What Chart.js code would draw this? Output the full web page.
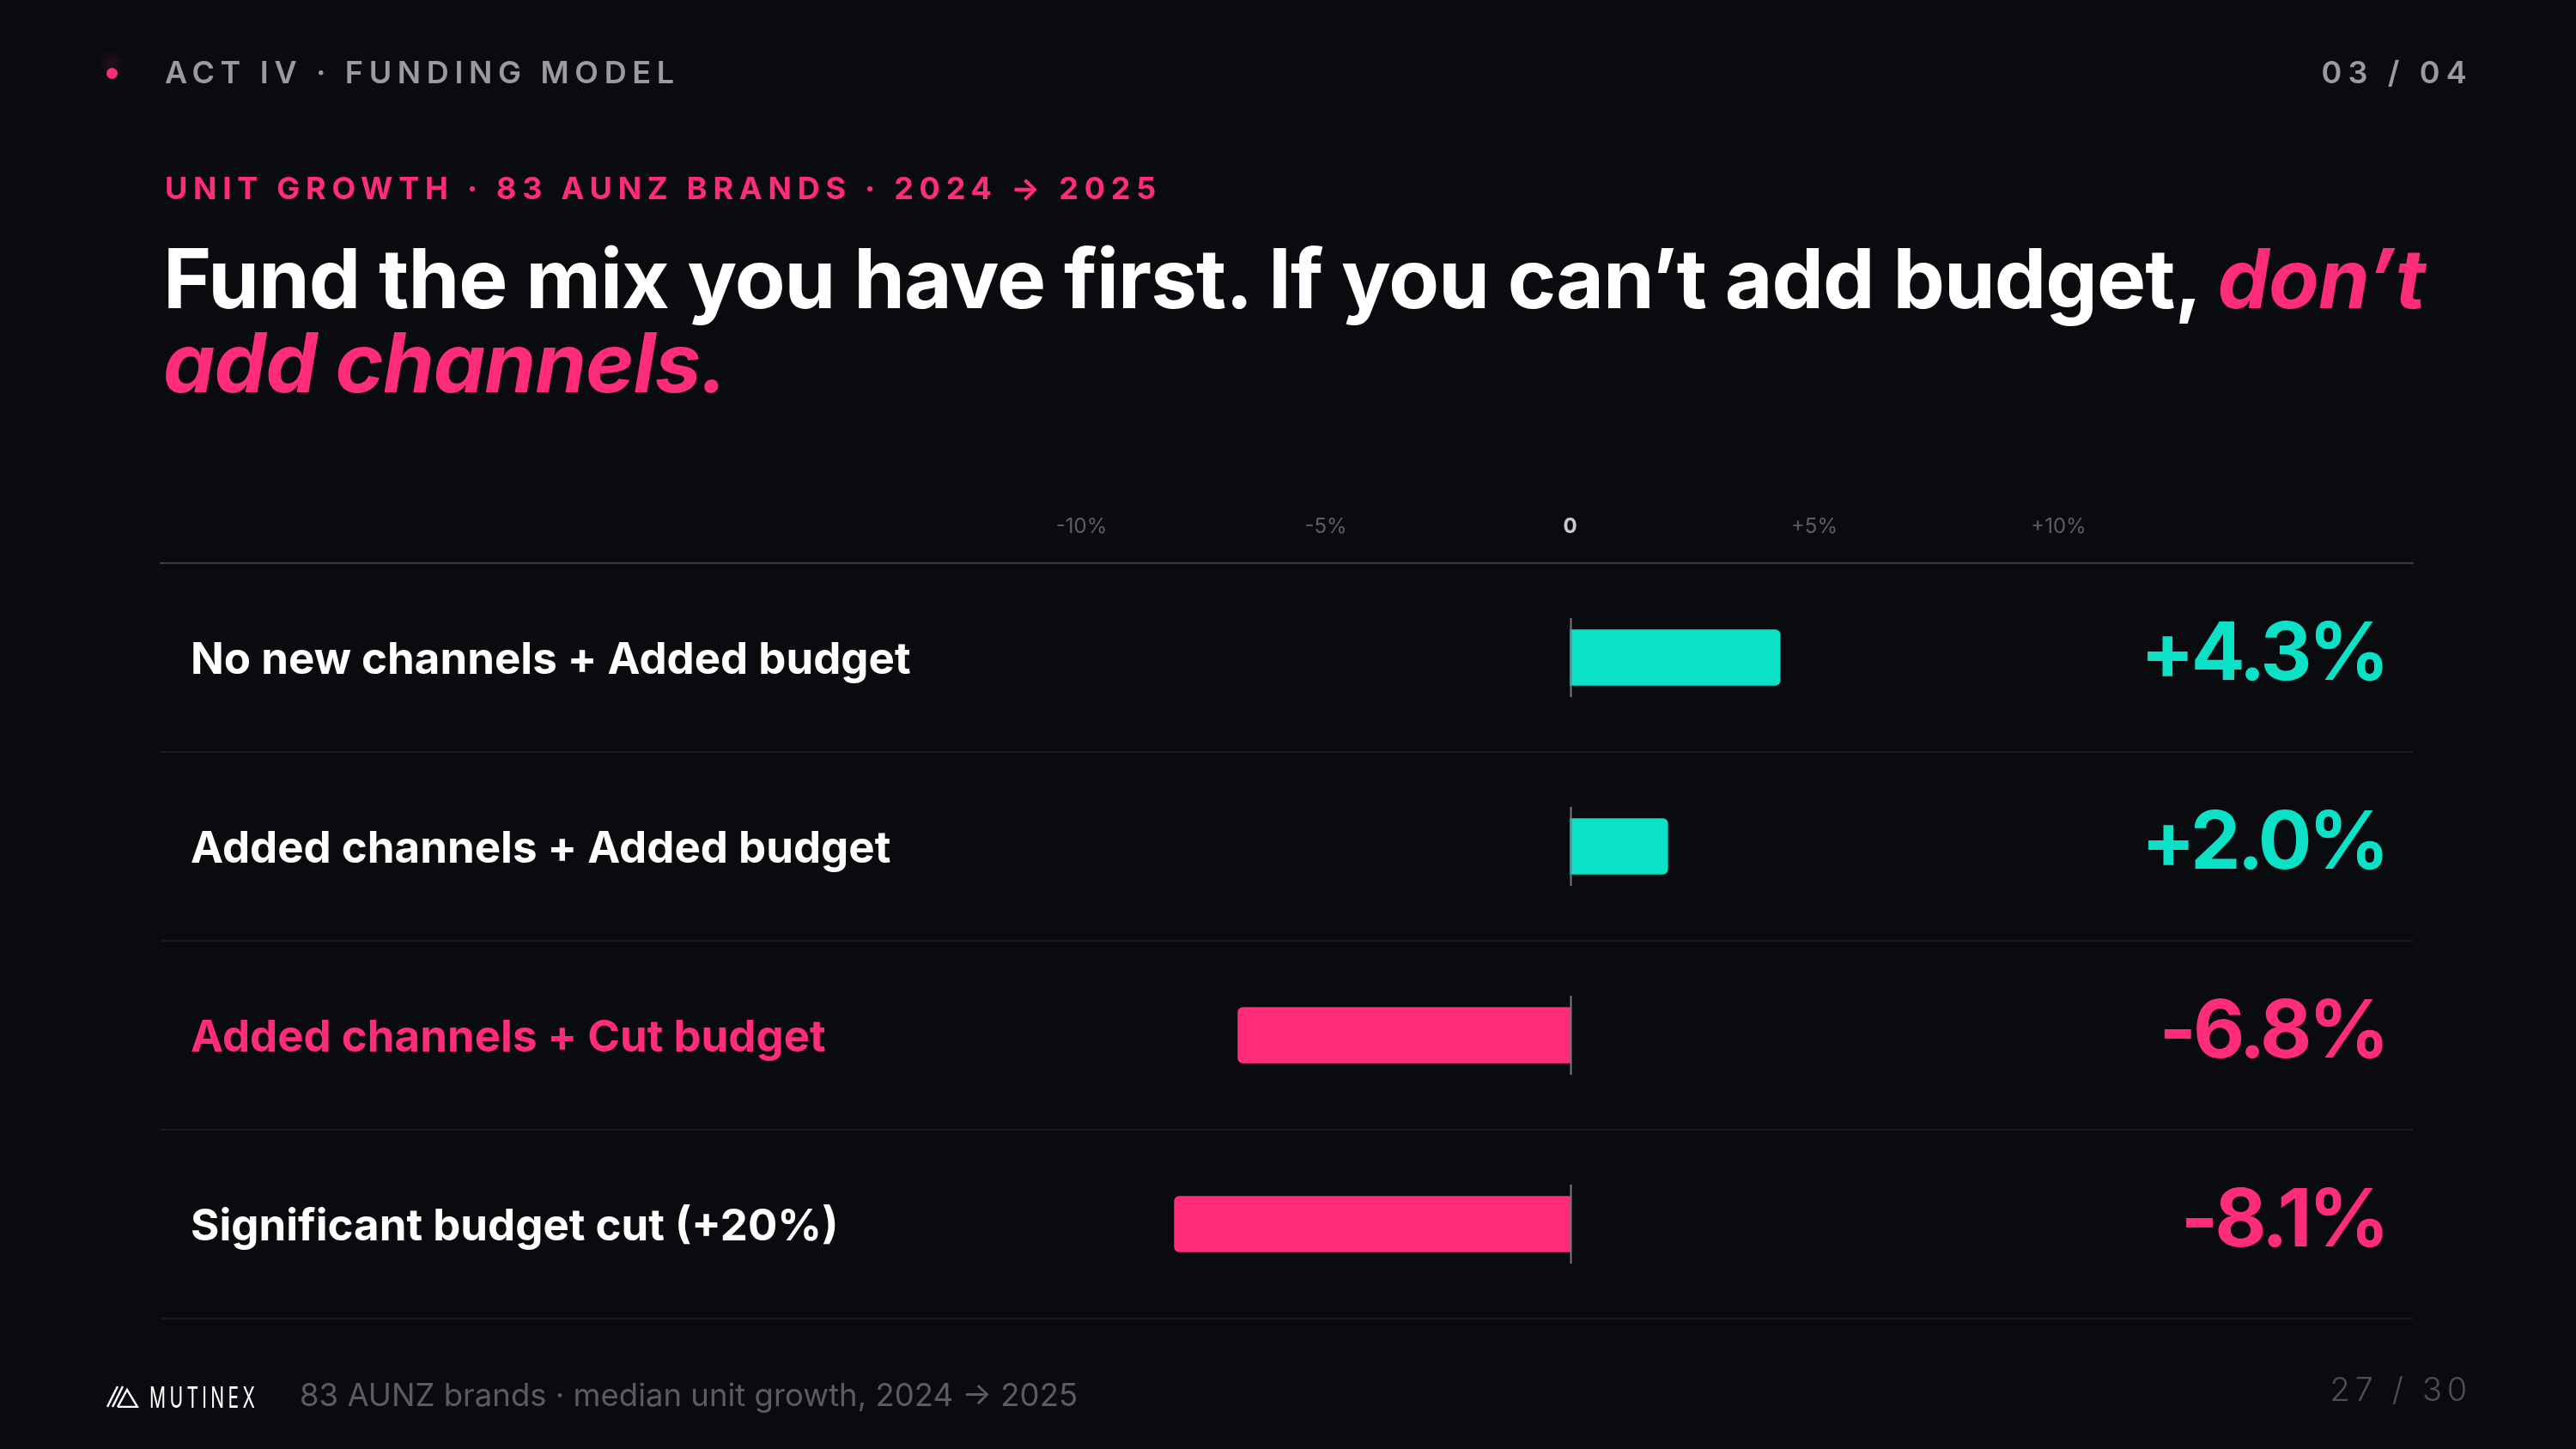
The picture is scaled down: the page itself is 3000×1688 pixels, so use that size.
<!DOCTYPE html>
<html>
<head>
<meta charset="utf-8">
<script src="https://cdn.jsdelivr.net/npm/chart.js@4.4.1/dist/chart.umd.min.js"></script>
<style>
  html, body { margin: 0; padding: 0; background: #0a0b0f; }
  body { width: 3000px; height: 1688px; position: relative; overflow: hidden; font-family: Inter, "Noto Sans", sans-serif; }
  .abs { position: absolute; white-space: nowrap; }
  #chart { position: absolute; left: 0; top: 0; }
  #dot { left: 124px; top: 79px; width: 13px; height: 13px; border-radius: 50%; background: #ff2d78; box-shadow: 0 -12px 14px rgba(255, 45, 120, 0.30); }
  #act { left: 192px; top: 62px; font-size: 36px; line-height: 44px; font-weight: 600; letter-spacing: 0.185em; color: #9a9ba2; }
  #pager { right: 127px; top: 62px; font-size: 36px; line-height: 44px; font-weight: 600; letter-spacing: 0.2em; margin-right: -7px; color: #9a9ba2; }
  #kicker { left: 192px; top: 197px; font-size: 36px; line-height: 44px; font-weight: 700; letter-spacing: 0.188em; color: #ff2d78; }
  #title { left: 190px; top: 275px; font-size: 96px; line-height: 98px; font-weight: 700; letter-spacing: -0.01em; color: #ffffff; }
  #title em { color: #ff2d78; font-style: italic; }
  #logo { left: 124px; top: 1612px; height: 30px; display: flex; align-items: center; }
  #logo span { display: inline-block; font-size: 34px; font-weight: 400; letter-spacing: 7px; color: #ffffff; margin-left: 12px; transform: scaleX(0.62); transform-origin: left center; }
  #note { left: 349px; top: 1603px; font-size: 36.5px; line-height: 44px; font-weight: 400; color: #5b5c63; }
  #folio { right: 127px; top: 1596px; font-size: 38px; line-height: 44px; font-weight: 300; letter-spacing: 0.15em; margin-right: -6px; color: #4e4f56; }
</style>
</head>
<body>
<canvas id="chart" width="3000" height="1688"></canvas>

<div id="dot" class="abs"></div>
<div id="act" class="abs">ACT IV · FUNDING MODEL</div>
<div id="pager" class="abs">03 / 04</div>
<div id="kicker" class="abs">UNIT GROWTH · 83 AUNZ BRANDS · 2024 → 2025</div>
<div id="title" class="abs">Fund the mix you have first. If you can’t add budget, <em>don’t</em><br><em>add channels.</em></div>

<div id="logo" class="abs">
  <svg width="38" height="26" viewBox="0 0 38 26">
    <g fill="none" stroke="#ffffff" stroke-width="2.4">
      <line x1="1" y1="25" x2="13" y2="1"/>
      <line x1="7" y1="25" x2="19" y2="1"/>
      <polyline points="13,25 24,5 36,25 13,25"/>
    </g>
  </svg>
  <span>MUTINEX</span>
</div>
<div id="note" class="abs">83 AUNZ brands · median unit growth, 2024 → 2025</div>
<div id="folio" class="abs">27 / 30</div>

<script>
// Funding scenarios, median unit growth 2024 -> 2025 (%)
const categories = [
  "No new channels + Added budget",
  "Added channels + Added budget",
  "Added channels + Cut budget",
  "Significant budget cut (+20%)"
];
const growth = [4.3, 2.0, -6.8, -8.1];
const xTickValues = [-10, -5, 0, 5, 10];
const xTickLabels = ["-10%", "-5%", "0", "+5%", "+10%"];
const highlightRow = 2;

const TEAL = "#0be1c6";
const PINK = "#ff2d78";

function fmtPct(v) {
  return (v > 0 ? "+" : "") + v.toFixed(1) + "%";
}

// short vertical tick through zero on every row,
// then tighten tracking for the big value labels drawn after the bars
const zeroTicks = {
  id: "zeroTicks",
  afterDatasetsDraw(chart) {
    const { ctx, scales: { x, y } } = chart;
    const x0 = Math.round(x.getPixelForValue(0)) + 0.5;
    ctx.save();
    ctx.strokeStyle = "#7a7b82";
    ctx.lineWidth = 2;
    categories.forEach((c, i) => {
      const yc = y.getPixelForValue(i);
      ctx.beginPath();
      ctx.moveTo(x0, yc - 46);
      ctx.lineTo(x0, yc + 46);
      ctx.stroke();
    });
    ctx.restore();
    ctx.letterSpacing = "-4px";
  },
  afterDraw(chart) {
    chart.ctx.letterSpacing = "0px";
  }
};

new Chart(document.getElementById("chart"), {
  type: "bar",
  data: {
    labels: categories,
    datasets: [{
      data: growth,
      backgroundColor: growth.map(v => (v >= 0 ? TEAL : PINK)),
      barThickness: 65,
      borderRadius: 6
    }]
  },
  options: {
    indexAxis: "y",
    responsive: false,
    devicePixelRatio: 1,
    animation: false,
    layout: { padding: { left: 187, right: 190, top: 576, bottom: 152 } },
    plugins: { legend: { display: false }, tooltip: { enabled: false } },
    scales: {
      x: {
        position: "top",
        min: -28.85,
        max: 17.25,
        afterBuildTicks: s => { s.ticks = xTickValues.map(v => ({ value: v })); },
        afterFit: s => { s.height = 80; },
        grid: { display: false, drawTicks: false },
        border: { display: true, color: "#3a3b41", width: 2 },
        ticks: {
          padding: 28,
          maxRotation: 0,
          autoSkip: false,
          callback: (v, i) => xTickLabels[i],
          color: c => (c.tick && c.tick.value === 0 ? "#c9cad0" : "#5d5e65"),
          font: c => ({ family: "Inter", size: 24, weight: c.tick && c.tick.value === 0 ? "700" : "400" })
        }
      },
      y: {
        position: "left",
        offset: true,
        afterFit: s => { s.width = 0; },
        grid: {
          offset: true,
          drawTicks: false,
          lineWidth: 2,
          color: c => (c.index === 0 ? "#3a3b41" : "#1a1b20")
        },
        border: { display: false },
        ticks: {
          mirror: true,
          padding: 35,
          labelOffset: 4,
          color: c => (c.index === highlightRow ? PINK : "#ffffff"),
          font: { family: "Inter", size: 51, weight: "700" }
        }
      },
      y2: {
        type: "category",
        position: "right",
        offset: true,
        afterFit: s => { s.width = 0; },
        grid: { display: false, drawTicks: false },
        border: { display: false },
        ticks: {
          z: 1,
          mirror: true,
          padding: -31,
          labelOffset: -2,
          callback: (v, i) => fmtPct(growth[i]),
          color: c => (growth[c.index] >= 0 ? TEAL : PINK),
          font: { family: "Inter", size: 93, weight: "700" }
        }
      }
    }
  },
  plugins: [zeroTicks]
});
</script>
</body>
</html>
